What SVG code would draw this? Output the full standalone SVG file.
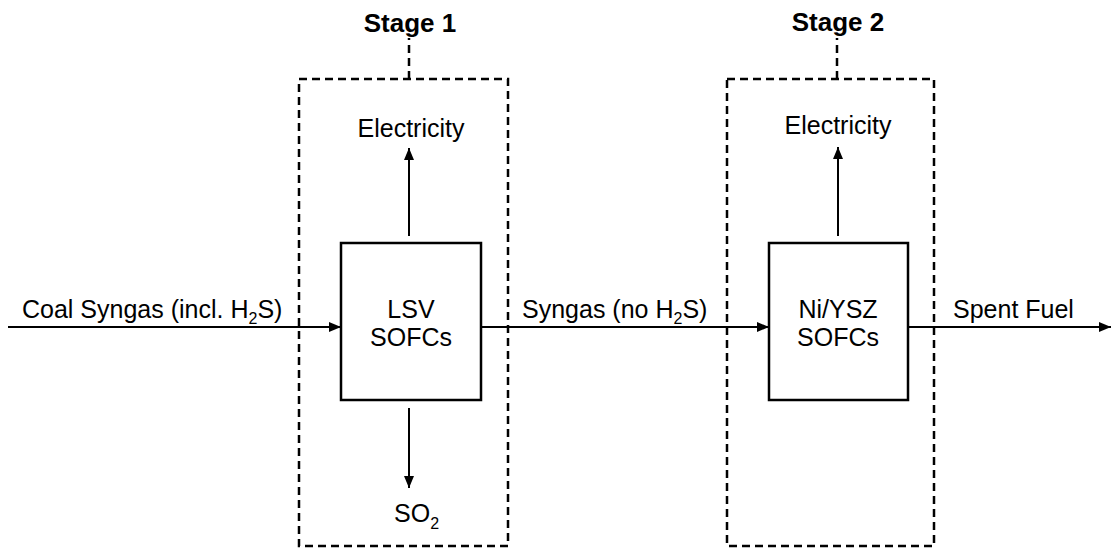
<svg xmlns="http://www.w3.org/2000/svg" width="1111" height="550" viewBox="0 0 1111 550">
<style>
text{font-family:"Liberation Sans",Arial,sans-serif;font-size:25px;fill:#000}
.title{font-weight:bold;font-size:26px}
.sub{font-size:16px}
.stage{fill:none;stroke:#000;stroke-width:2.5;stroke-dasharray:8,5}
.box{fill:#fff;stroke:#000;stroke-width:2.5}
.conn{fill:none;stroke:#000;stroke-width:2;marker-end:url(#ah)}
</style>
<defs>
<marker id="ah" viewBox="0 0 12 10" refX="12" refY="5" markerWidth="12" markerHeight="10" markerUnits="userSpaceOnUse" orient="auto">
<path d="M0,0L12,5L0,10z" fill="#000"/>
</marker>
</defs>
<g id="stage1">
<rect class="stage" x="299" y="79" width="209" height="467"/>
<path class="stage" d="M409,79V38"/>
<text class="title" x="410" y="32" text-anchor="middle">Stage 1</text>
</g>
<g id="stage2">
<rect class="stage" x="727" y="79" width="207" height="467"/>
<path class="stage" d="M837,79V38"/>
<text class="title" x="838" y="31" text-anchor="middle">Stage 2</text>
</g>
<g id="connectors">
<path class="conn" d="M8,327H341"/>
<path class="conn" d="M481,327H769"/>
<path class="conn" d="M908,327H1111"/>
<path class="conn" d="M409,236V148"/>
<path class="conn" d="M409,408V488"/>
<path class="conn" d="M838,236V147"/>
</g>
<g id="lsv">
<rect class="box" x="341" y="243" width="140" height="157"/>
<text x="411" y="318" text-anchor="middle">LSV</text>
<text x="411" y="346" text-anchor="middle">SOFCs</text>
</g>
<g id="nysz">
<rect class="box" x="769" y="243" width="139" height="157"/>
<text x="838" y="318" text-anchor="middle">Ni/YSZ</text>
<text x="838" y="346" text-anchor="middle">SOFCs</text>
</g>
<g id="labels">
<text x="22" y="318">Coal Syngas (incl. H<tspan class="sub" dy="6">2</tspan><tspan dy="-6">S)</tspan></text>
<text x="522" y="318">Syngas (no H<tspan class="sub" dy="6">2</tspan><tspan dy="-6">S)</tspan></text>
<text x="953" y="318">Spent Fuel</text>
<text x="411" y="137" text-anchor="middle">Electricity</text>
<text x="838" y="134" text-anchor="middle">Electricity</text>
<text x="394" y="522">SO<tspan class="sub" dy="7">2</tspan></text>
</g>
</svg>
